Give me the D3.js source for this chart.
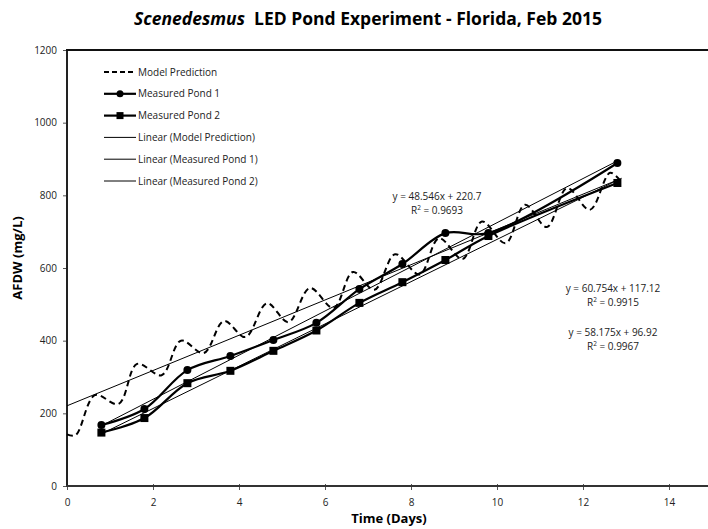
<!DOCTYPE html>
<html>
<head>
<meta charset="utf-8">
<script src="https://cdn.jsdelivr.net/npm/d3@7"></script>
<style>
  body { margin: 0; background: #fff; }
  text { font-family: "Open Sans", "Noto Sans", sans-serif; fill: #000; }
</style>
</head>
<body>
<div id="chart"></div>
<script>
// model prediction (day/night sawtooth)
var modelT = [0, 0.2, 0.65, 1.2, 1.63, 2.2, 2.65, 3.18, 3.65, 4.15, 4.65, 5.15, 5.65, 6.2, 6.65, 7.15, 7.63, 8.2, 8.65, 9.2, 9.65, 10.2, 10.65, 11.16, 11.63, 12.16, 12.63, 12.9];
var modelY = [142, 140, 250, 226, 336, 305, 400, 366, 454, 410, 503, 451, 545, 490, 589, 540, 638, 582, 682, 625, 728, 668, 774, 713, 820, 760, 862, 836];

var days = [0.8, 1.8, 2.8, 3.8, 4.8, 5.8, 6.8, 7.8, 8.8, 9.8, 12.8];
var pond1 = [168, 212, 319, 358, 402, 449, 542, 611, 696, 696, 889];
var pond2 = [147, 187, 283, 317, 372, 428, 504, 561, 622, 688, 834];

// excel trendlines: [slope, intercept, r2, from, to]
var trendModel = [48.546, 220.7, 0.9693, 0, 12.9];
var trendP1 = [60.754, 117.12, 0.9915, 0.8, 12.8];
var trendP2 = [58.175, 96.92, 0.9967, 0.8, 12.8];

var xTicks = [0, 2, 4, 6, 8, 10, 12, 14];
var yTicks = [0, 200, 400, 600, 800, 1000, 1200];

var legendNames = ["Model Prediction", "Measured Pond 1", "Measured Pond 2",
  "Linear (Model Prediction)", "Linear (Measured Pond 1)", "Linear (Measured Pond 2)"];

var width = 708, height = 529;

var svg = d3.select("#chart").append("svg")
  .attr("width", width)
  .attr("height", height);

var x = d3.scaleLinear().domain([0, 16]).range([67, 755]);
var y = d3.scaleLinear().domain([0, 1200]).range([486, 50]);

// title
var title = svg.append("text")
  .attr("x", 368)
  .attr("y", 25)
  .style("text-anchor", "middle")
  .style("font-size", "17.5px")
  .style("font-weight", "bold");
title.append("tspan").style("font-style", "italic").text("Scenedesmus");
title.append("tspan").text("\u00a0 LED Pond Experiment - Florida, Feb 2015");

// axes
var xAxis = d3.axisBottom(x).tickValues(xTicks).tickSize(4).tickSizeOuter(0).tickFormat(d3.format("d"));
var yAxis = d3.axisLeft(y).tickValues(yTicks).tickSize(4).tickSizeOuter(0).tickFormat(d3.format("d"));

var gx = svg.append("g")
  .attr("transform", "translate(0," + y(0) + ")")
  .call(xAxis);
gx.selectAll(".tick line").attr("y1", -2).attr("stroke", "#555");
gx.selectAll("text").attr("dy", "1.25em").style("font-size", "10px").style("fill", "#222");
gx.select(".domain").remove();

var gy = svg.append("g")
  .attr("transform", "translate(" + x(0) + ",0)")
  .call(yAxis);
gy.selectAll(".tick line").attr("stroke", "#555");
gy.selectAll("text").attr("dx", "-0.3em").style("font-size", "10px").style("fill", "#222");
gy.select(".domain").remove();

// frame: left, bottom, top
svg.append("line").attr("x1", x(0)).attr("x2", x(0)).attr("y1", y(1200)).attr("y2", y(0))
  .attr("stroke", "#222").attr("stroke-width", 2);
svg.append("line").attr("x1", x(0) - 1).attr("x2", width).attr("y1", y(0)).attr("y2", y(0))
  .attr("stroke", "#333").attr("stroke-width", 2);
svg.append("line").attr("x1", x(0) - 1).attr("x2", width).attr("y1", y(1200)).attr("y2", y(1200))
  .attr("stroke", "#111").attr("stroke-width", 2);

// axis labels
svg.append("text")
  .attr("x", 389)
  .attr("y", 523)
  .style("text-anchor", "middle")
  .style("font-size", "13px")
  .style("font-weight", "bold")
  .text("Time (Days)");

svg.append("text")
  .attr("transform", "translate(22,258) rotate(-90)")
  .style("text-anchor", "middle")
  .style("font-size", "13px")
  .style("font-weight", "bold")
  .text("AFDW (mg/L)");

// trendlines
[trendModel, trendP1, trendP2].forEach(function(t) {
  svg.append("line")
    .attr("x1", x(t[3])).attr("y1", y(t[0] * t[3] + t[1]))
    .attr("x2", x(t[4])).attr("y2", y(t[0] * t[4] + t[1]))
    .attr("stroke", "#000").attr("stroke-width", 1);
});

// model line
var modelLine = d3.line()
  .x(function(d, i) { return x(modelT[i]); })
  .y(function(d) { return y(d); })
  .curve(d3.curveCatmullRom.alpha(0.5));

svg.append("path")
  .datum(modelY)
  .attr("d", modelLine)
  .attr("fill", "none")
  .attr("stroke", "#000")
  .attr("stroke-width", 2)
  .attr("stroke-dasharray", "6,4");

// measured lines
var pondLine = d3.line()
  .x(function(d, i) { return x(days[i]); })
  .y(function(d) { return y(d); })
  .curve(d3.curveCatmullRom.alpha(0.5));

[pond1, pond2].forEach(function(p) {
  svg.append("path")
    .datum(p)
    .attr("d", pondLine)
    .attr("fill", "none")
    .attr("stroke", "#000")
    .attr("stroke-width", 2.2);
});

svg.selectAll(".dot1")
  .data(pond1)
  .enter().append("circle")
  .attr("cx", function(d, i) { return x(days[i]); })
  .attr("cy", function(d) { return y(d); })
  .attr("r", 4)
  .attr("fill", "#000");

svg.selectAll(".sq2")
  .data(pond2)
  .enter().append("rect")
  .attr("x", function(d, i) { return x(days[i]) - 4; })
  .attr("y", function(d) { return y(d) - 4; })
  .attr("width", 8)
  .attr("height", 8)
  .attr("fill", "#000");

// legend
var legend = svg.append("g");
legendNames.forEach(function(name, i) {
  var ly = 72 + i * 21.8;
  var g = legend.append("g");
  var ln = g.append("line")
    .attr("x1", 104).attr("x2", 136)
    .attr("y1", ly).attr("y2", ly)
    .attr("stroke", "#000");
  if (i == 0) ln.attr("stroke-width", 2).attr("stroke-dasharray", "5,3");
  else if (i < 3) ln.attr("stroke-width", 2.2);
  else ln.attr("stroke-width", 1);
  if (i == 1) g.append("circle").attr("cx", 120).attr("cy", ly).attr("r", 3.5).attr("fill", "#000");
  if (i == 2) g.append("rect").attr("x", 116.5).attr("y", ly - 3.5).attr("width", 7).attr("height", 7).attr("fill", "#000");
  g.append("text")
    .attr("x", 138)
    .attr("y", ly)
    .attr("dy", "0.35em")
    .style("font-size", "10px")
    .style("fill", "#222")
    .text(name);
});

// equations
function eq(t, cx, cy) {
  svg.append("text")
    .attr("x", cx).attr("y", cy)
    .style("text-anchor", "middle")
    .style("font-size", "10px")
    .style("fill", "#222")
    .text("y = " + t[0] + "x + " + t[1]);
  var r = svg.append("text")
    .attr("x", cx).attr("y", cy + 14)
    .style("text-anchor", "middle")
    .style("font-size", "10px")
    .style("fill", "#222");
  r.append("tspan").text("R");
  r.append("tspan").attr("dy", -4).style("font-size", "6.5px").text("2");
  r.append("tspan").attr("dy", 4).text(" = " + t[2]);
}
eq(trendModel, 437, 200);
eq(trendP1, 613, 292);
eq(trendP2, 613, 336);
</script>
</body>
</html>
